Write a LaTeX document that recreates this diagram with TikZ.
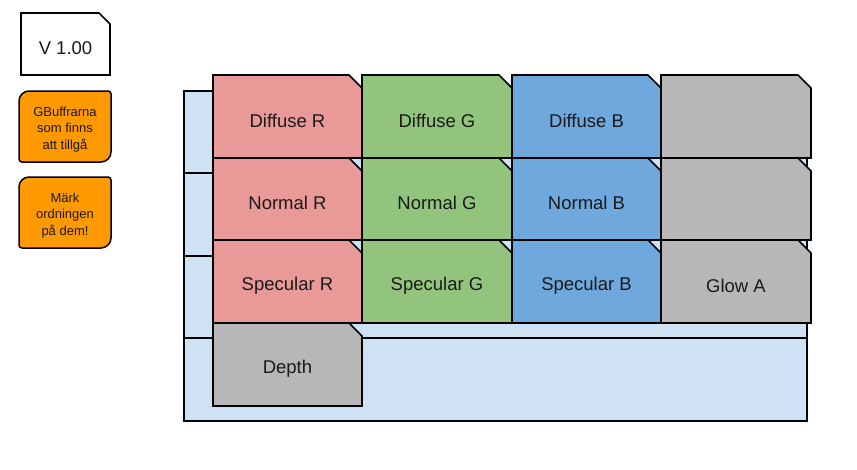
\documentclass[tikz,border=0pt]{standalone}
\usepackage{fontspec}
\setmainfont{Liberation Sans}
\definecolor{cred}{HTML}{EA9999}
\definecolor{cgreen}{HTML}{93C47D}
\definecolor{cblue}{HTML}{6FA8DC}
\definecolor{cgray}{HTML}{B7B7B7}
\definecolor{clight}{HTML}{CFE2F3}
\definecolor{corange}{HTML}{FF9900}
\definecolor{ctext}{HTML}{1A1A1A}
\tikzset{
  cellline/.style={draw=black, line width=1.7pt, line join=miter},
  bgline/.style={draw=black, line width=1.7pt, fill=clight},
  celltext/.style={text=ctext, font=\fontsize{18.5}{22}\selectfont, inner sep=0pt},
  notetext/.style={text=ctext, font=\fontsize{13}{16.5}\selectfont, align=center, inner sep=0pt},
}
% name, x1, y1, x2, y2, fill, text, cut
\newcommand\gcell[8]{%
  \draw[cellline, fill=#6] (#2,#3) -- (#4-#8,#3) -- (#4,#3+#8) -- (#4,#5) -- (#2,#5) -- cycle;
  \node[celltext] (#1) at ({(#2+#4)/2},{(#3+#5)/2+4}) {#7};}
% name, x1, y1, x2, y2, text
\newcommand\obox[6]{%
  \draw[cellline, line width=1.5pt, fill=corange]
    (#2,#3+10) .. controls (#2,#3+4.5) and (#2+4.5,#3) .. (#2+10,#3)
    -- (#4-3,#3) .. controls (#4-1.3,#3) and (#4,#3+1.3) .. (#4,#3+3)
    -- (#4,#5-10) .. controls (#4,#5-4.5) and (#4-4.5,#5) .. (#4-10,#5)
    -- (#2+3,#5) .. controls (#2+1.3,#5) and (#2,#5-1.3) .. (#2,#5-3)
    -- cycle;
  \node[notetext] (#1) at ({(#2+#4)/2},{(#3+#5)/2+3}) {#6};}
\begin{document}
\begin{tikzpicture}[x=1pt,y=-1pt]
\useasboundingbox (0,0) rectangle (857,469);
% background rows
\draw[bgline] (184,91) rectangle (807,173);
\draw[bgline] (184,173) rectangle (807,256);
\draw[bgline] (184,256) rectangle (807,338);
\draw[bgline] (184,338) rectangle (807,421);
% row 1
\gcell{dr}{213}{75}{362}{158}{cred}{Diffuse R}{13}
\gcell{dg}{362}{75}{512}{158}{cgreen}{Diffuse G}{13}
\gcell{db}{512}{75}{661}{158}{cblue}{Diffuse B}{13}
\gcell{da}{661}{75}{811}{158}{cgray}{}{13}
% row 2
\gcell{nr}{213}{158}{362}{240}{cred}{Normal R}{13}
\gcell{ng}{362}{158}{512}{240}{cgreen}{Normal G}{13}
\gcell{nb}{512}{158}{661}{240}{cblue}{Normal B}{13}
\gcell{na}{661}{158}{811}{240}{cgray}{}{13}
% row 3
\gcell{sr}{213}{240}{362}{323}{cred}{Specular R}{13}
\gcell{sg}{362}{240}{512}{323}{cgreen}{Specular G}{13}
\gcell{sb}{512}{240}{661}{323}{cblue}{Specular B}{13}
\gcell{ga}{661}{240}{811}{323}{cgray}{Glow A}{13}
% depth
\gcell{dp}{213}{323}{362}{406}{cgray}{Depth}{13}
% notes
\gcell{ver}{21}{13}{110}{75}{white}{V 1.00}{11}
\obox{n1}{19}{91}{111}{162}{GBuffrarna\\som finns\\att tillgå}
\obox{n2}{19}{177}{111}{248}{Märk\\ordningen\\på dem!}
\end{tikzpicture}
\end{document}
